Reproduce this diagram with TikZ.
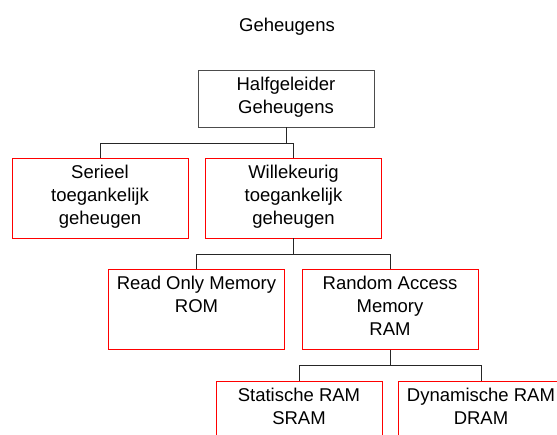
\documentclass[tikz,border=0pt]{standalone}
\usepackage{fontspec}
\setmainfont{Liberation Sans}

\begin{document}
\begin{tikzpicture}[x=1pt,y=-1pt,
  box/.style={draw=black!70,line width=0.8pt,align=center,
    font=\fontsize{18.5}{23}\selectfont,inner sep=0pt,
    execute at begin node={\rule{0pt}{10pt}},execute at end node=\strut},
  redbox/.style={box,draw=red,minimum width=176pt,minimum height=80pt},
  link/.style={draw=black!85,line width=0.8pt}]
\useasboundingbox (0,0) rectangle (557,435);
\clip (0,0) rectangle (557,435);
\node[font=\fontsize{18.5}{23}\selectfont] (title) at (287,27) {Geheugens};
\node[box,minimum width=176pt,minimum height=57pt] (half) at (286,98.5) {Halfgeleider\\Geheugens};
\node[redbox] (ser) at (100,198) {Serieel\\toegankelijk\\geheugen};
\node[redbox] (wil) at (293.5,198) {Willekeurig\\toegankelijk\\geheugen};
\node[redbox] (rom) at (196.5,309.5) {Read Only Memory\\ROM\\~};
\node[redbox] (ram) at (390,309.5) {Random Access\\Memory\\RAM};
\node[redbox,minimum width=166pt] (sram) at (299,421) {Statische RAM\\SRAM\\~};
\node[redbox,minimum width=166pt] (dram) at (481,421) {Dynamische RAM\\DRAM\\~};
% connectors
\draw[link] (half.south) -- ++(0,16) -| (ser.north);
\draw[link] (half.south) -- ++(0,16) -| (wil.north);
\draw[link] (wil.south) -- ++(0,16) -| (rom.north);
\draw[link] (wil.south) -- ++(0,16) -| (ram.north);
\draw[link] (ram.south) -- ++(0,16) -| (sram.north);
\draw[link] (ram.south) -- ++(0,16) -| (dram.north);
\end{tikzpicture}
\end{document}
